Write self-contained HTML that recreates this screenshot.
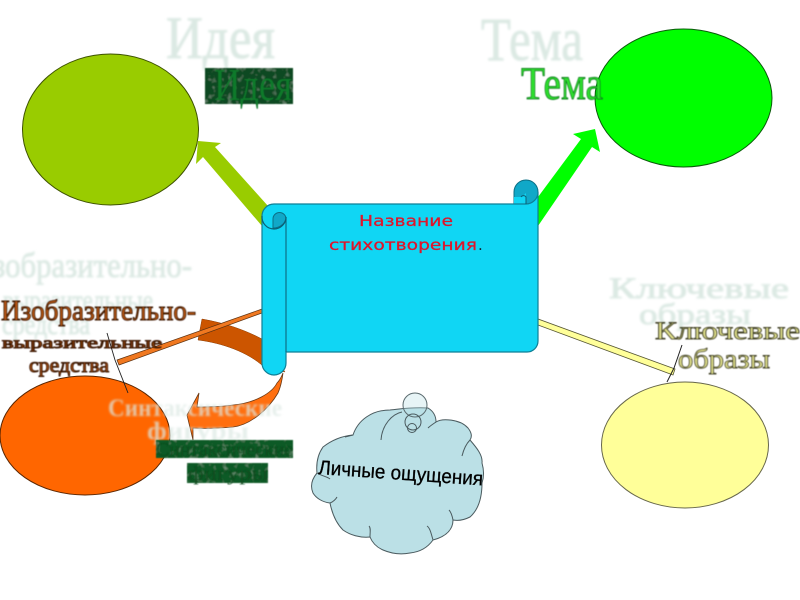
<!DOCTYPE html>
<html><head><meta charset="utf-8"><style>
html,body{margin:0;padding:0;background:#fff;width:800px;height:600px;overflow:hidden}
svg{display:block}
text{font-family:"Liberation Serif",serif}
.g{fill:#dbe9e3;stroke:#dbe9e3;stroke-width:.8;filter:url(#b)}
</style></head><body>
<svg width="800" height="600" viewBox="0 0 800 600" xmlns="http://www.w3.org/2000/svg">
<defs>
<filter id="b" x="-10%" y="-20%" width="120%" height="140%"><feGaussianBlur stdDeviation="1"/></filter>
<filter id="s" x="-5%" y="-10%" width="110%" height="120%"><feGaussianBlur stdDeviation="0.4"/></filter>
<filter id="tex" x="0" y="0" width="100%" height="100%"><feTurbulence type="fractalNoise" baseFrequency="0.18" numOctaves="2" seed="4"/><feColorMatrix values="0 0 0 0 .5  0 0 0 0 .7  0 0 0 0 .55  .9 0 0 0 -.5"/><feComposite in2="SourceGraphic" operator="in" result="n"/><feMerge><feMergeNode in="SourceGraphic"/><feMergeNode in="n"/></feMerge></filter>
</defs>

<!-- ghost texts -->
<text class="g" x="166" y="58" font-size="60" textLength="109" lengthAdjust="spacingAndGlyphs">Идея</text>
<text class="g" x="481" y="60" font-size="61" textLength="102" lengthAdjust="spacingAndGlyphs">Тема</text>
<text class="g" x="-29" y="277" font-size="35" textLength="221" lengthAdjust="spacingAndGlyphs">Изобразительно-</text>
<text class="g" x="3" y="310" font-size="30" textLength="150" lengthAdjust="spacingAndGlyphs">выразительные</text>
<text class="g" x="2" y="334" font-size="30" textLength="88" lengthAdjust="spacingAndGlyphs">средства</text>
<text class="g" x="609" y="298" font-size="30" textLength="180" lengthAdjust="spacingAndGlyphs">Ключевые</text>
<text class="g" x="639" y="324" font-size="30" textLength="112" lengthAdjust="spacingAndGlyphs">образы</text>

<!-- ellipses -->
<ellipse cx="110.5" cy="129.5" rx="88" ry="75.5" fill="#99cc00" stroke="#3d5200" stroke-width="1"/>
<ellipse cx="683.5" cy="98" rx="88.5" ry="69" fill="#00ff00" stroke="#0a5a0a" stroke-width="1"/>
<ellipse cx="85" cy="435.5" rx="85" ry="59.5" fill="#ff6600" stroke="#5a2500" stroke-width="1"/>
<ellipse cx="685" cy="445" rx="83.5" ry="63" fill="#ffff99" stroke="#66664a" stroke-width="1"/>

<!-- arrows -->
<polygon points="198,141 221,143 215,147 268,206 262,226 203,157 196,164" fill="#99cc00"/>
<polygon points="595,129 573,134 581,139 538,197 538,226 592,147 600,152" fill="#00ff00"/>

<!-- curved arrow -->
<path d="M202,319 L198,340 C222,343 248,352 264,367 L285,372 L262,339 C245,330 225,323 202,319Z" fill="#cc5500" stroke="#8a3a00" stroke-width=".5"/>
<path d="M283,373 C281,378 279,381 277,383 C272,393 255,403 233,405 C220,407 208,407 197,407 L199,393 L187,415 L193,440 L193,428 C208,429 222,428 233,427 C250,425 268,410 278,393 C281,386 282,381 283,373Z" fill="#ff6f0f" stroke="#6b3a16" stroke-width=".8"/>

<!-- ghost text over arrow -->
<text x="108" y="416" font-size="25" font-weight="bold" fill="#dce9e3" fill-opacity=".72" textLength="174" lengthAdjust="spacingAndGlyphs" filter="url(#b)">Синтаксические</text>
<text x="147" y="439" font-size="25" font-weight="bold" fill="#dce9e3" fill-opacity=".72" textLength="102" lengthAdjust="spacingAndGlyphs" filter="url(#b)">фигуры</text>

<!-- connectors -->
<polygon points="262,309 262,313 119,365 117,360" fill="#f07820" stroke="#5a3010" stroke-width=".7"/>
<polygon points="538,319 538,325 673,375 675,369" fill="#ffff99" stroke="#555533" stroke-width=".8"/>
<path d="M107,333 L115,360 L128,393" fill="none" stroke="#222" stroke-width=".9"/>
<path d="M682,345 L674,368 L667,382" fill="none" stroke="#222" stroke-width="1"/>

<!-- scroll -->
<path d="M514,205 L514,192 A12,12 0 0 1 538,192 L538,205Z" fill="#10a8c8" stroke="#0b6f85" stroke-width="1"/>
<path d="M514,204 L514,197 L522,197 L526,193 L526,204Z" fill="#10d6f4"/>
<path d="M262,216 A12,12 0 0 1 274,204 L526,204 A12,12 0 0 0 538,192 L538,341 A11,11 0 0 1 527,352 L286,352 L286,363 A12,12 0 0 1 262,363Z" fill="#10d6f4" stroke="#0d7f96" stroke-width="1.2"/>
<path d="M286,352 L286,217" fill="none" stroke="#0d6f85" stroke-width="1.2"/>
<path d="M273,228 L273,219 A6.500,6.500 0 0 1 286,219 A13,13 0 0 1 273,228Z" fill="#10a8c8" stroke="#0b6f85" stroke-width="1"/>
<path d="M262,216 A12,12 0 0 0 274,229 A12,12 0 0 0 286,217" fill="none" stroke="#0b5f75" stroke-width="1.2"/>
<path d="M526,204 L526,197 A3,3 0 0 0 521,197" fill="none" stroke="#0b5f75" stroke-width="1"/>
<g style="font-size:15px">
<text x="359" y="226" style="font-family:'DejaVu Sans',sans-serif" fill="#e0142a" stroke="#e0142a" stroke-width=".25" textLength="94" lengthAdjust="spacingAndGlyphs">Название</text>
<text x="329" y="250" style="font-family:'DejaVu Sans',sans-serif" fill="#e0142a" stroke="#e0142a" stroke-width=".25" textLength="148" lengthAdjust="spacingAndGlyphs">стихотворения</text>
<text x="478" y="250" style="font-family:'DejaVu Sans',sans-serif" fill="#123">.</text>
</g>

<!-- cloud -->
<path d="M353,435 C358,420 372,410 390,410 C400,409 412,407 428,408 C433,411 436,416 436,422 C442,418 460,419 468,428 C472,433 472,437 470,440 C476,447 483,455 482,463 C484,470 484,477 482,483 C482,498 478,510 470,517 C464,520 458,521 453,520 C453,528 448,536 433,540 C428,547 420,552 410,553 C400,555 390,553 383,550 C376,547 372,542 370,537 C360,538 350,535 343,530 C336,523 332,513 330,503 C322,502 316,498 313,493 C310,486 312,479 317,473 C316,463 318,454 323,447 C332,440 342,436 353,435Z" fill="#bbe0e6" stroke="#4a5a5e" stroke-width="1"/>
<path d="M381,440 C382,425 392,414 402,412" fill="none" stroke="#4a5a5e" stroke-width="1"/>
<path d="M436,422 C433,424 430,426 428,428 M353,435 L345,437 M470,440 C465,445 463,452 462,456 M317,473 C322,476 328,477 330,479 M330,503 C333,502 336,499 337,497 M370,537 C370,532 371,528 369,526 M433,540 C431,533 430,528 427,526 M453,520 C452,515 451,512 449,510" fill="none" stroke="#4a5a5e" stroke-width="1"/>
<circle cx="415" cy="405" r="12" fill="#bbe0e6" fill-opacity=".35" stroke="#5a6a6e" stroke-width="1"/>
<circle cx="413" cy="422" r="8" fill="none" stroke="#4a5a5e" stroke-width="1"/>
<circle cx="412" cy="428" r="4.500" fill="none" stroke="#4a5a5e" stroke-width="1"/>
<text transform="translate(318,474) rotate(4)" font-size="20" style="font-family:'Liberation Sans',sans-serif" fill="#000" stroke="#000" stroke-width=".3" textLength="165" lengthAdjust="spacingAndGlyphs">Личные ощущения</text>

<!-- dark textured label boxes -->
<g filter="url(#s)">
<rect x="205" y="68" width="88" height="36" fill="#0f4a22" filter="url(#tex)"/>
<rect x="156" y="440" width="137" height="18" fill="#0f5a28" filter="url(#tex)"/>
<rect x="187" y="463" width="81" height="20" fill="#0f5a28" filter="url(#tex)"/>
</g>
<text x="214" y="100" font-size="46" fill="#0e7a2a" textLength="78" lengthAdjust="spacingAndGlyphs" filter="url(#s)">Идея</text>
<text x="156" y="456" font-size="20" fill="#0a4a1c" fill-opacity=".85" textLength="137" lengthAdjust="spacingAndGlyphs" filter="url(#s)">Синтаксические</text>
<text x="188" y="480" font-size="20" fill="#0a4a1c" fill-opacity=".85" textLength="80" lengthAdjust="spacingAndGlyphs" filter="url(#s)">фигуры</text>

<!-- headline labels -->
<text x="521" y="99" font-size="47" fill="#2fe02f" stroke="#0a7a1a" stroke-width=".9" textLength="82" lengthAdjust="spacingAndGlyphs" filter="url(#s)">Тема</text>
<g stroke="#3a1500" stroke-width="1" fill="#c05a18" filter="url(#s)">
<text x="1" y="320" font-size="28" textLength="195" lengthAdjust="spacingAndGlyphs">Изобразительно-</text>
<text x="2" y="348" font-size="16" textLength="160" lengthAdjust="spacingAndGlyphs">выразительные</text>
<text x="29" y="372" font-size="20" textLength="80" lengthAdjust="spacingAndGlyphs">средства</text>
</g>
<g stroke="#45452a" stroke-width=".9" fill="#e8e890" filter="url(#s)">
<text x="655" y="339" font-size="25" textLength="145" lengthAdjust="spacingAndGlyphs">Ключевые</text>
<text x="678" y="368" font-size="27" textLength="92" lengthAdjust="spacingAndGlyphs">образы</text>
</g>
</svg>
</body></html>
